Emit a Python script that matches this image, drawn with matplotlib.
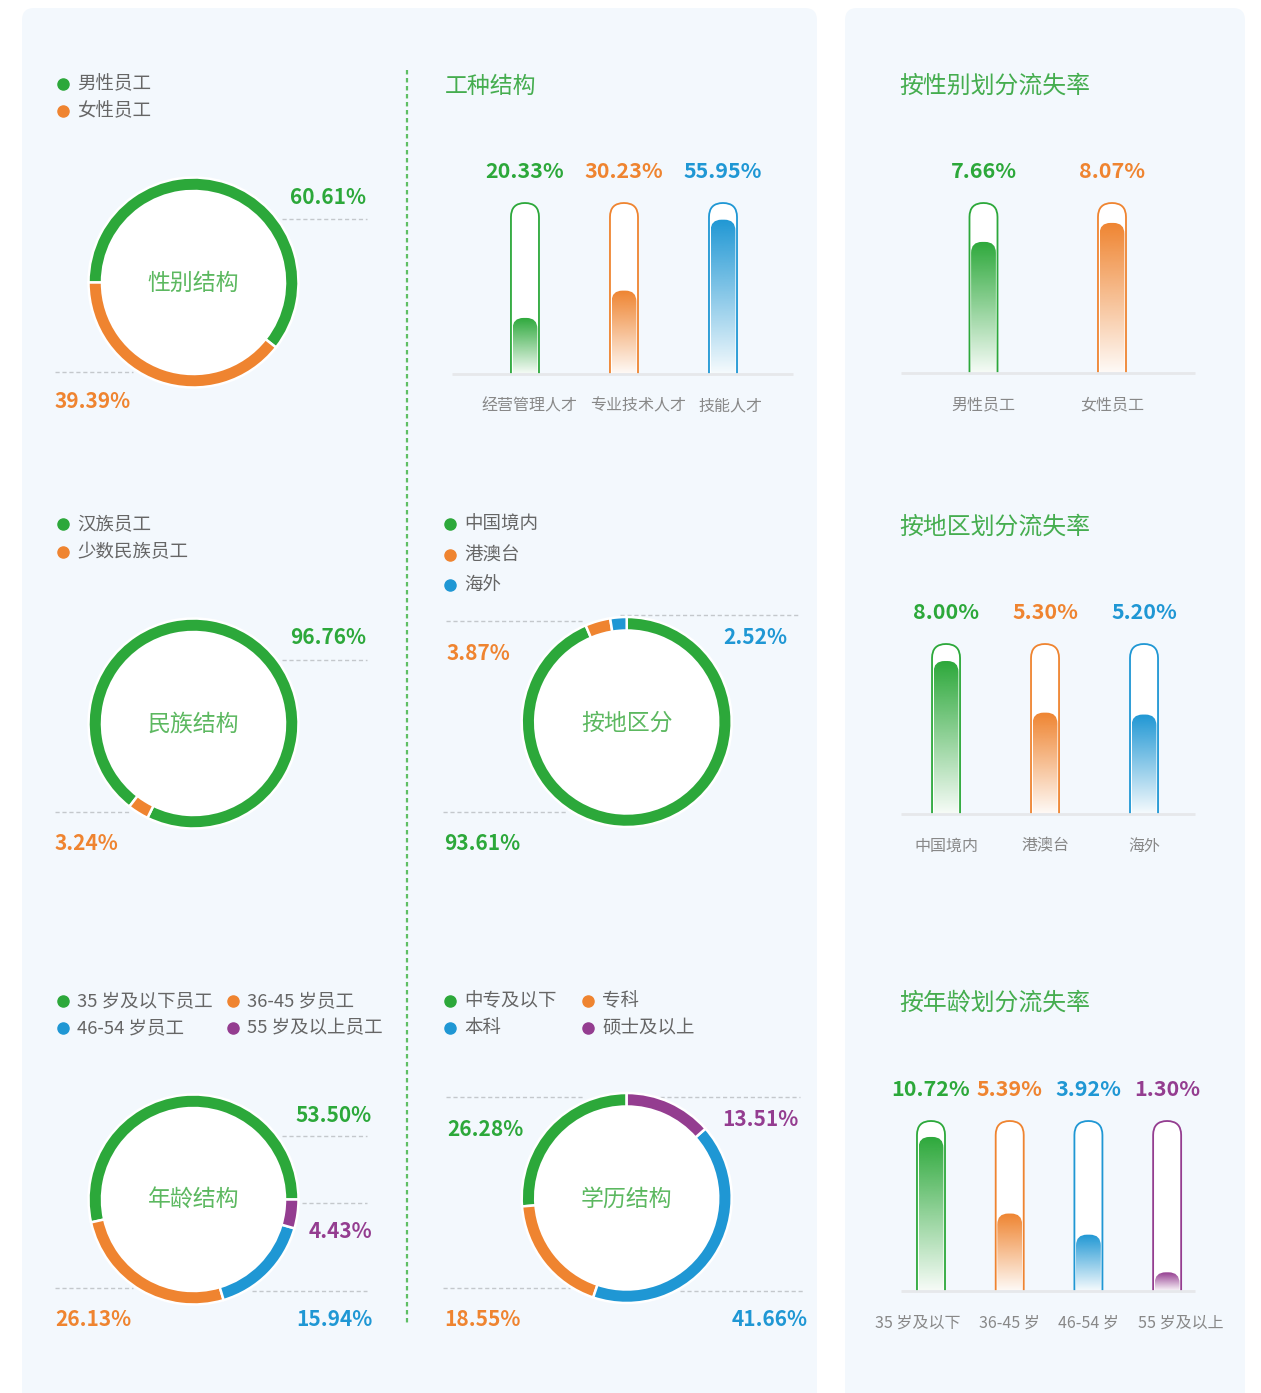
import numpy as np
import matplotlib.pyplot as plt
from matplotlib.patches import FancyBboxPatch, Rectangle, Circle
from matplotlib.colors import to_rgb

plt.rcParams['font.family'] = ['Noto Sans CJK SC', 'DejaVu Sans']

W, H = 1261, 1393
GREEN = '#2ca83a'
ORANGE = '#ef8430'
BLUE = '#1f97d4'
PURPLE = '#943d90'
TITLE_GREEN = '#45ad4f'
PANEL = '#f3f8fd'
GREY_TXT = '#666666'

# ---- data ----
gender_labels = ['男性员工', '女性员工']
gender_share = [60.61, 39.39]
ethnic_labels = ['汉族员工', '少数民族员工']
ethnic_share = [96.76, 3.24]
age_labels = ['35 岁及以下员工', '36-45 岁员工', '46-54 岁员工', '55 岁及以上员工']
age_share = [53.50, 26.13, 15.94, 4.43]
region_labels = ['中国境内', '港澳台', '海外']
region_share = [93.61, 3.87, 2.52]
edu_labels = ['中专及以下', '专科', '本科', '硕士及以上']
edu_share = [26.28, 18.55, 41.66, 13.51]
job_labels = ['经营管理人才', '专业技术人才', '技能人才']
job_share = [20.33, 30.23, 55.95]
loss_gender_labels = ['男性员工', '女性员工']
loss_gender = [7.66, 8.07]
loss_region_labels = ['中国境内', '港澳台', '海外']
loss_region = [8.00, 5.30, 5.20]
loss_age_labels = ['35 岁及以下', '36-45 岁', '46-54 岁', '55 岁及以上']
loss_age = [10.72, 5.39, 3.92, 1.30]

fig = plt.figure(figsize=(W / 100, H / 100), dpi=100)
bg = fig.add_axes([0, 0, 1, 1])
bg.set_xlim(0, W)
bg.set_ylim(H, 0)
bg.axis('off')

# panels
bg.add_patch(FancyBboxPatch((22, 8), 795, 1420, boxstyle='round,pad=0,rounding_size=12',
                            fc=PANEL, ec='none', zorder=0))
bg.add_patch(FancyBboxPatch((845, 8), 400, 1420, boxstyle='round,pad=0,rounding_size=12',
                            fc=PANEL, ec='none', zorder=0))
# divider
bg.plot([407, 407], [70, 1325], color='#5fbf64', lw=1.6, ls=(0, (2, 1.6)), zorder=1)


def frac_box(l, t, w, h):
    return [l / W, 1 - (t + h) / H, w / W, h / H]


def legend(items, colors, pos):
    for (x, y), lab, c in zip(pos, items, colors):
        bg.plot(x, y, 'o', ms=8, color=c, zorder=5)
        bg.text(x + 14, y + 0.5, lab, fontsize=13.3, color=GREY_TXT, va='center', ha='left')


def pct(x, y, v, c, ha):
    bg.text(x, y + 1, f'{v:.2f}%', fontsize=15, fontweight='bold', color=c, ha=ha, va='center')


def dash(x0, x1, y):
    bg.plot([x0, x1], [y, y], color='#c4c8cc', lw=1, ls=(0, (3, 2)), zorder=1)


def donut(cx, cy, vals, colors, start, ccw, title):
    R = 105
    s = 2.5 * R
    ax = fig.add_axes(frac_box(cx - s / 2, cy - s / 2, s, s))
    ax.pie(vals, colors=colors, startangle=start, counterclock=ccw, radius=1,
           wedgeprops=dict(width=13.5 / R, edgecolor='white', linewidth=1.8))
    ax.add_patch(Circle((0, 0), 1 - 13.5 / R, fc='white', ec='none', zorder=0))
    ax.set_xlim(-1.25, 1.25)
    ax.set_ylim(-1.25, 1.25)
    ax.set_aspect('equal')
    ax.text(0, -0.01, title, ha='center', va='center', fontsize=16.5, color='#5cb860')


def capsule_bars(left, right, top, base, vals, labels, colors, xlim, ylim, width, tick_pos=None):
    ax = fig.add_axes(frac_box(left, top, right - left, base - top))
    ax.set_xlim(*xlim)
    ax.set_ylim(*ylim)
    ax.patch.set_alpha(0)
    for sp in ax.spines.values():
        sp.set_visible(False)
    ax.set_yticks([])
    x = np.arange(len(vals))
    if tick_pos is None:
        tick_pos = x
    ax.set_xticks(tick_pos, labels)
    ax.tick_params(axis='x', length=0, pad=17, labelsize=11.5, labelcolor='#888888')
    bars = ax.bar(x, vals, width=width, color='none', edgecolor='none')

    def p(xx, yy):
        return bg.transData.inverted().transform(ax.transData.transform((xx, yy)))

    for rect, v, c, xi in zip(bars, vals, colors, x):
        x0 = rect.get_x()
        x1 = x0 + rect.get_width()
        xl, ftop = p(x0, rect.get_height())
        xr, ybase = p(x1, ylim[0])
        _, ytrack = p(x0, ylim[1])
        w = xr - xl
        r = w / 2
        track = FancyBboxPatch((xl, ytrack), w, (ybase - ytrack) + r + 4,
                               boxstyle=f'round,pad=0,rounding_size={r}',
                               fc='white', ec=c, lw=1.3, zorder=2)
        bg.add_patch(track)
        track.set_clip_path(Rectangle((xl - 3, ytrack - 3), w + 6, ybase - ytrack + 3,
                                      transform=bg.transData))
        inset = 1.6
        fw = w - 2 * inset
        fr = fw / 2 - 1.5
        fill = FancyBboxPatch((xl + inset, ftop), fw, (ybase - ftop) + fr + 4,
                              boxstyle=f'round,pad=0,rounding_size={fr}',
                              transform=bg.transData, fc='none', ec='none')
        rgb = to_rgb(c)
        n = 256
        grad = np.zeros((n, 2, 4))
        grad[:, :, :3] = rgb
        grad[:, :, 3] = np.linspace(1.0, 0.04, n)[:, None]
        im = bg.imshow(grad, extent=(xl + inset, xl + inset + fw, ybase, ftop),
                       aspect='auto', zorder=3, interpolation='bilinear')
        im.set_clip_path(fill)
        ax.annotate(f'{v:.2f}%', (xi, ylim[1]), xytext=(0, 22.5), textcoords='offset points',
                    ha='center', va='center', fontsize=15.5, fontweight='bold', color=c)
    bg.plot([left, right], [base, base], color='#e6e8eb', lw=2, zorder=4, solid_capstyle='butt')


# ---- left column donuts ----
legend(gender_labels, [GREEN, ORANGE], [(63, 84), (63, 111)])
donut(193.5, 282.5, gender_share, [GREEN, ORANGE], -38.2, True, '性别结构')
dash(282, 367, 219)
pct(366, 197, gender_share[0], GREEN, 'right')
dash(55, 133, 372)
pct(55, 401, gender_share[1], ORANGE, 'left')

legend(ethnic_labels, [GREEN, ORANGE], [(63, 524), (63, 552)])
donut(193.5, 723.5, ethnic_share, [GREEN, ORANGE], -116, True, '民族结构')
dash(282, 367, 660)
pct(366, 637, ethnic_share[0], GREEN, 'right')
dash(55, 130, 812)
pct(55, 842, ethnic_share[1], ORANGE, 'left')

legend(age_labels, [GREEN, ORANGE, BLUE, PURPLE],
       [(63, 1001), (233, 1001), (63, 1028), (233, 1028)])
donut(193.5, 1199.5, age_share, [GREEN, ORANGE, BLUE, PURPLE], 0, True, '年龄结构')
dash(282, 367, 1136)
pct(372, 1114, age_share[0], GREEN, 'right')
dash(302, 367, 1203)
pct(372, 1230, age_share[3], PURPLE, 'right')
dash(55, 133, 1288)
pct(55, 1318, age_share[1], ORANGE, 'left')
dash(252, 367, 1291)
pct(372, 1318, age_share[2], BLUE, 'right')

# ---- middle column ----
bg.text(445, 86, '工种结构', fontsize=16.5, color=TITLE_GREEN, va='center', ha='left')
capsule_bars(452, 793, 203, 374, job_share, job_labels, [GREEN, ORANGE, BLUE],
             (-0.737, 2.707), (0, 62), 0.283, tick_pos=[0.05, 1.14, 2.08])

legend(region_labels, [GREEN, ORANGE, BLUE], [(450, 524), (450, 555), (450, 585)])
donut(626.7, 722, region_share, [GREEN, ORANGE, BLUE], 90, False, '按地区分')
dash(446, 583, 621)
pct(447, 652, region_share[1], ORANGE, 'left')
dash(620, 800, 615)
pct(787, 637, region_share[2], BLUE, 'right')
dash(443, 568, 812)
pct(444, 842, region_share[0], GREEN, 'left')

legend(edu_labels, [GREEN, ORANGE, BLUE, PURPLE],
       [(450, 1001), (588, 1001), (450, 1028), (588, 1028)])
donut(626.7, 1198, edu_share, [GREEN, ORANGE, BLUE, PURPLE], 90, True, '学历结构')
dash(446, 583, 1097)
pct(447, 1128, edu_share[0], GREEN, 'left')
dash(660, 800, 1097)
pct(799, 1119, edu_share[3], PURPLE, 'right')
dash(443, 570, 1288)
pct(444, 1318, edu_share[1], ORANGE, 'left')
dash(680, 803, 1291)
pct(808, 1318, edu_share[2], BLUE, 'right')

# ---- right column: loss rates ----
bg.text(899, 86, '按性别划分流失率', fontsize=17.2, color=TITLE_GREEN, va='center', ha='left')
capsule_bars(901, 1195, 203, 373, loss_gender, loss_gender_labels, [GREEN, ORANGE],
             (-0.642, 1.646), (4.83, 8.50), 0.218)

bg.text(899, 527, '按地区划分流失率', fontsize=17.2, color=TITLE_GREEN, va='center', ha='left')
capsule_bars(901, 1195, 644, 814, loss_region, loss_region_labels, [GREEN, ORANGE, BLUE],
             (-0.455, 2.515), (0, 8.89), 0.283)

bg.text(899, 1003, '按年龄划分流失率', fontsize=17.2, color=TITLE_GREEN, va='center', ha='left')
capsule_bars(901, 1195, 1121, 1291, loss_age, loss_age_labels, [GREEN, ORANGE, BLUE, PURPLE],
             (-0.381, 3.354), (0, 11.83), 0.356, tick_pos=[-0.17, 1, 2, 3.17])

bg.set_xlim(0, W)
bg.set_ylim(H, 0)

fig.savefig('out.png', dpi=100)
